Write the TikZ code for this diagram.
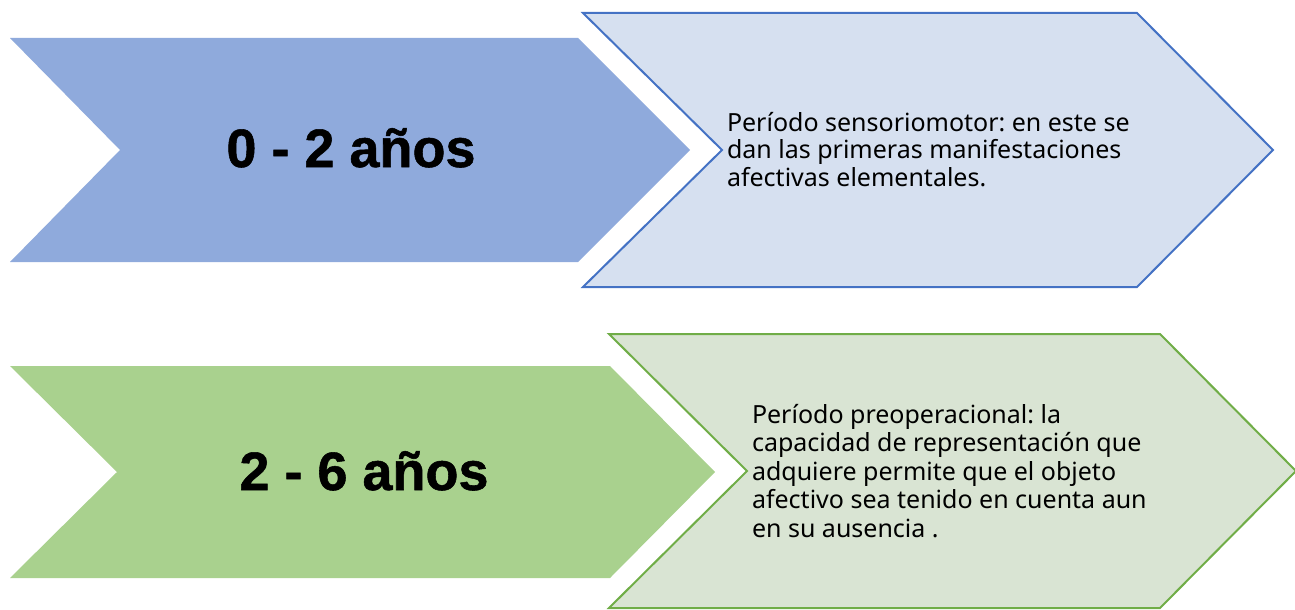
\documentclass[tikz,border=0pt]{standalone}
\usepackage{fontspec}
\setmainfont{Noto Sans}
\newfontfamily\yearfont[FakeBold=1]{Liberation Sans}
\frenchspacing
\definecolor{stageblue}{HTML}{8FAADC}
\definecolor{paleblue}{HTML}{D6E0F0}
\definecolor{edgeblue}{HTML}{4472C4}
\definecolor{stagegreen}{HTML}{A9D18E}
\definecolor{palegreen}{HTML}{D9E4D3}
\definecolor{edgegreen}{HTML}{70AD47}

\begin{document}
\begin{tikzpicture}[x=1pt,y=-1pt,inner sep=0pt,outer sep=0pt,
	yearlabel/.style={anchor=base,font=\yearfont\bfseries\fontsize{54}{60}\selectfont},
	periodlabel/.style={anchor=base west,align=left,font=\fontsize{25}{27.5}\selectfont}]
	\useasboundingbox (0,0) rectangle (1295,610);
	
	\fill[stageblue] (10,38) -- (578,38) -- (690,150) -- (578,262) -- (10,262) -- (120,150) -- cycle;
	\filldraw[fill=paleblue, draw=edgeblue, line width=2pt] (583,13) -- (1137,13) -- (1273,150) -- (1137,287) -- (583,287) -- (722,150) -- cycle;
	
	\fill[stagegreen] (10,366) -- (610,366) -- (715,472) -- (610,578) -- (10,578) -- (117,472) -- cycle;
	\filldraw[fill=palegreen, draw=edgegreen, line width=2pt] (609,334) -- (1160,334) -- (1296,471) -- (1160,608) -- (609,608) -- (747,471) -- cycle;
	
	\node[yearlabel] at (351,167) (age_1) {0 - 2 años};
	\node[yearlabel] at (364,490) (age_2) {2 - 6 años};
	
	\node[periodlabel] at (727,186) (stage_1) {Período sensoriomotor: en este se\\dan las primeras manifestaciones\\afectivas elementales.};
	\node[periodlabel,font=\fontsize{25}{28.5}\selectfont] at (752,537) (stage_2) {Período preoperacional: la\\capacidad de representación que\\adquiere permite que el objeto\\afectivo sea tenido en cuenta aun\\en su ausencia .};
\end{tikzpicture}
\end{document}
